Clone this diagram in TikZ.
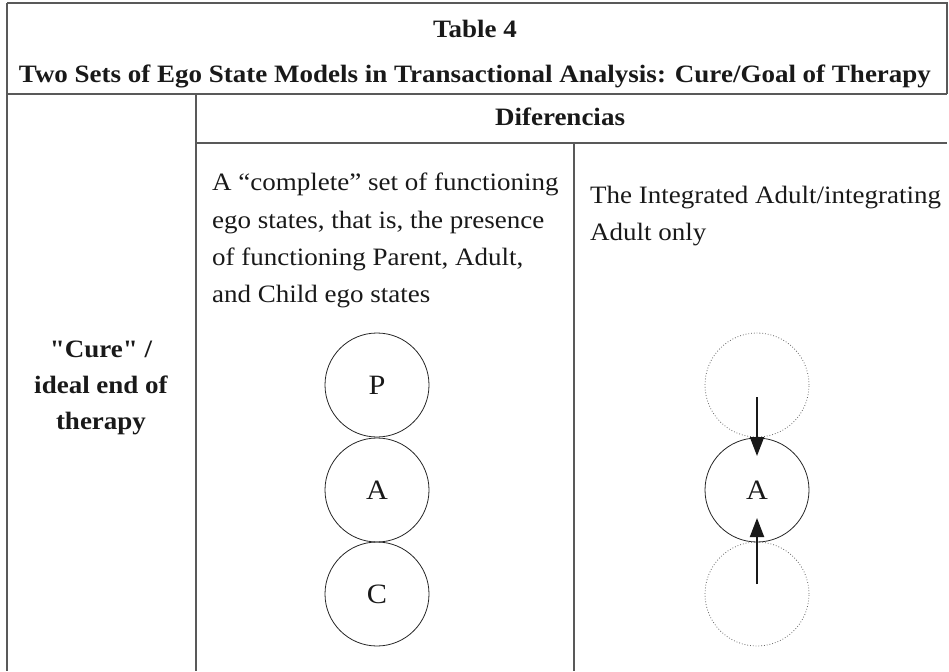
\documentclass[tikz,border=0pt]{standalone}
\usepackage{fontspec}
\setmainfont{Liberation Serif}[FakeStretch=1.08,Ligatures=TeXOff]
\usetikzlibrary{arrows.meta}
\begin{document}
\begin{tikzpicture}[x=1pt,y=-1pt,
  rule/.style={draw=black!65,line width=1.3pt},
  txt/.style={inner sep=0pt,font=\fontsize{25}{29}\selectfont,text=black!90},
  hdr/.style={txt,font=\fontsize{25}{29}\selectfont\bfseries},
  ego/.style={circle,draw=black!85,line width=0.8pt,minimum size=104pt,inner sep=0pt,outer sep=0pt,font=\fontsize{28}{32}\selectfont,text=black!90},
  ghost/.style={circle,draw=black!60,dotted,line width=0.8pt,minimum size=104pt,inner sep=0pt,outer sep=0pt},
  arr/.style={line width=2pt,draw=black!90,-{Triangle[length=19pt,width=14pt]}}]
\useasboundingbox (0,0) rectangle (949,671);
% table rules
\draw[rule] (7,3) -- (947,3) -- (947,94);
\draw[rule] (7,94) -- (947,94);
\draw[rule] (7,3) -- (7,671);
\draw[rule] (196,94) -- (196,671);
\draw[rule] (196,143) -- (947,143);
\draw[rule] (574,143) -- (574,671);
% headings
\node[hdr,anchor=base] (t1) at (475,38) {Table 4};
\node[hdr,anchor=base] (t2) at (475,83) {Two Sets of Ego State Models in Transactional Analysis: Cure/Goal of Therapy};
\node[hdr,anchor=base] (dif) at (560,126) {Diferencias};
% row label
\node[hdr,anchor=base] (r1) at (101,357) {"Cure" /};
\node[hdr,anchor=base] (r2) at (101,393) {ideal end of};
\node[hdr,anchor=base] (r3) at (101,429) {therapy};
% middle text
\node[txt,anchor=base west] (m1) at (212,190) {A “complete” set of functioning};
\node[txt,anchor=base west] (m2) at (212,228) {ego states, that is, the presence};
\node[txt,anchor=base west] (m3) at (212,265) {of functioning Parent, Adult,};
\node[txt,anchor=base west] (m4) at (212,302) {and Child ego states};
% right text
\node[txt,anchor=base west] (n1) at (590,203) {The Integrated Adult/integrating};
\node[txt,anchor=base west] (n2) at (590,240) {Adult only};
% left ego states
\node[ego] (P) at (377,385) {P};
\node[ego] (A) at (377,490) {A};
\node[ego] (C) at (377,594) {C};
% right ego states
\node[ghost] (GP) at (757,385) {};
\node[ego] (IA) at (757,490) {A};
\node[ghost] (GC) at (757,594) {};
\coordinate (s1) at (757,397);
\coordinate (e1) at (757,456);
\coordinate (s2) at (757,584);
\coordinate (e2) at (757,518);
\draw[arr] (s1) -- (e1);
\draw[arr] (s2) -- (e2);
\end{tikzpicture}
\end{document}
